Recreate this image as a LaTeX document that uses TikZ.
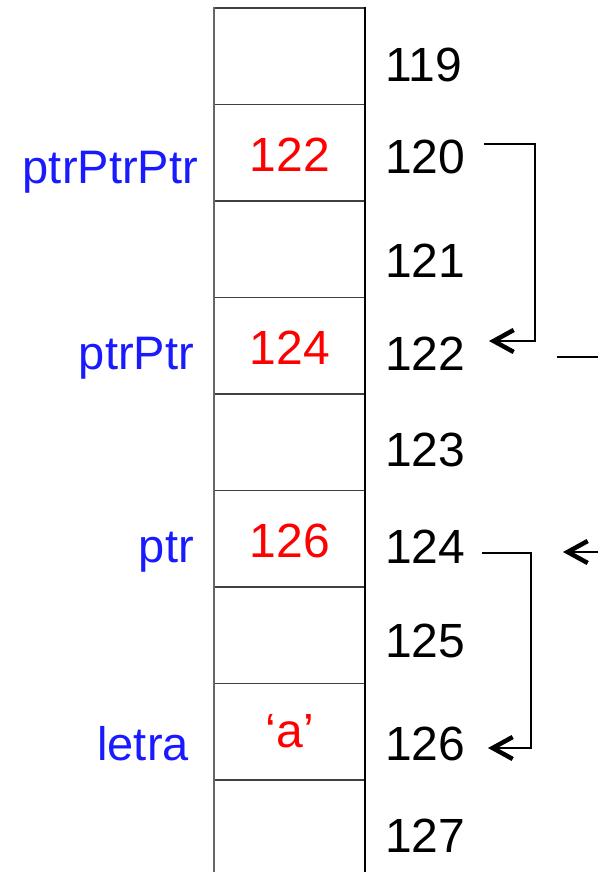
\documentclass[tikz,border=0pt]{standalone}
\usepackage{fontspec}
\setmainfont{Liberation Sans}
\usetikzlibrary{arrows.meta}
\definecolor{lblblue}{RGB}{26,26,255}
\definecolor{valred}{RGB}{255,0,0}
\tikzset{
  addrtext/.style={inner sep=0pt, anchor=base west, font=\fontsize{48}{48}\selectfont, text=black},
  valtext/.style={inner sep=0pt, anchor=base, font=\fontsize{48}{48}\selectfont, text=valred},
  vartext/.style={inner sep=0pt, anchor=base east, font=\fontsize{47}{47}\selectfont, text=lblblue},
  cellline/.style={draw=black!75, line width=1.5pt},
  ptrline/.style={draw=black, line width=1.8pt, -{Straight Barb[length=20pt,width=22pt,line width=4.5pt 0]}},
  plainline/.style={draw=black, line width=1.8pt}
}
\begin{document}
\begin{tikzpicture}[x=1pt,y=-1pt]
\useasboundingbox (0,0) rectangle (598,872);
\fill[white] (0,0) rectangle (598,872);
% memory column
\foreach \yy in {8,104.5,201,297.5,394,490.5,587,683.5,780}
  \draw[cellline] (214,\yy) -- (365,\yy);
\draw[draw=black!60, line width=2pt] (214,7.25) -- (214,872);
\draw[draw=black, line width=1.5pt] (365,7.25) -- (365,872);
% addresses
\node[addrtext] (a119) at (385,82) {119};
\node[addrtext] (a120) at (385,173) {120};
\node[addrtext] (a121) at (385,277) {121};
\node[addrtext] (a122) at (385,370) {122};
\node[addrtext] (a123) at (385,466) {123};
\node[addrtext] (a124) at (385,563) {124};
\node[addrtext] (a125) at (385,657) {125};
\node[addrtext] (a126) at (385,760) {126};
\node[addrtext] (a127) at (385,852) {127};
% values
\node[valtext] (v120) at (290,171) {122};
\node[valtext] (v122) at (290,364) {124};
\node[valtext] (v124) at (290,557) {126};
\node[valtext] (v126) at (290,747) {‘a’};
% variable names
\node[vartext] (n120) at (198,183) {ptrPtrPtr};
\node[vartext] (n122) at (194,369) {ptrPtr};
\node[vartext] (n124) at (194,562) {ptr};
\node[vartext] (n126) at (189,760) {letra};
% connector ends
\coordinate (s1) at (484,144);
\coordinate (e1) at (489,341);
\coordinate (s2) at (557,357);
\coordinate (t2) at (598,357);
\coordinate (s3) at (598,552);
\coordinate (e3) at (563,552);
\coordinate (s4) at (482,553);
\coordinate (e4) at (488,748);
\draw[ptrline] (s1) -- (535,144) |- (e1);
\draw[plainline] (s2) -- (t2);
\draw[ptrline] (s3) -- (e3);
\draw[ptrline] (s4) -- (531,553) |- (e4);
\end{tikzpicture}
\end{document}
